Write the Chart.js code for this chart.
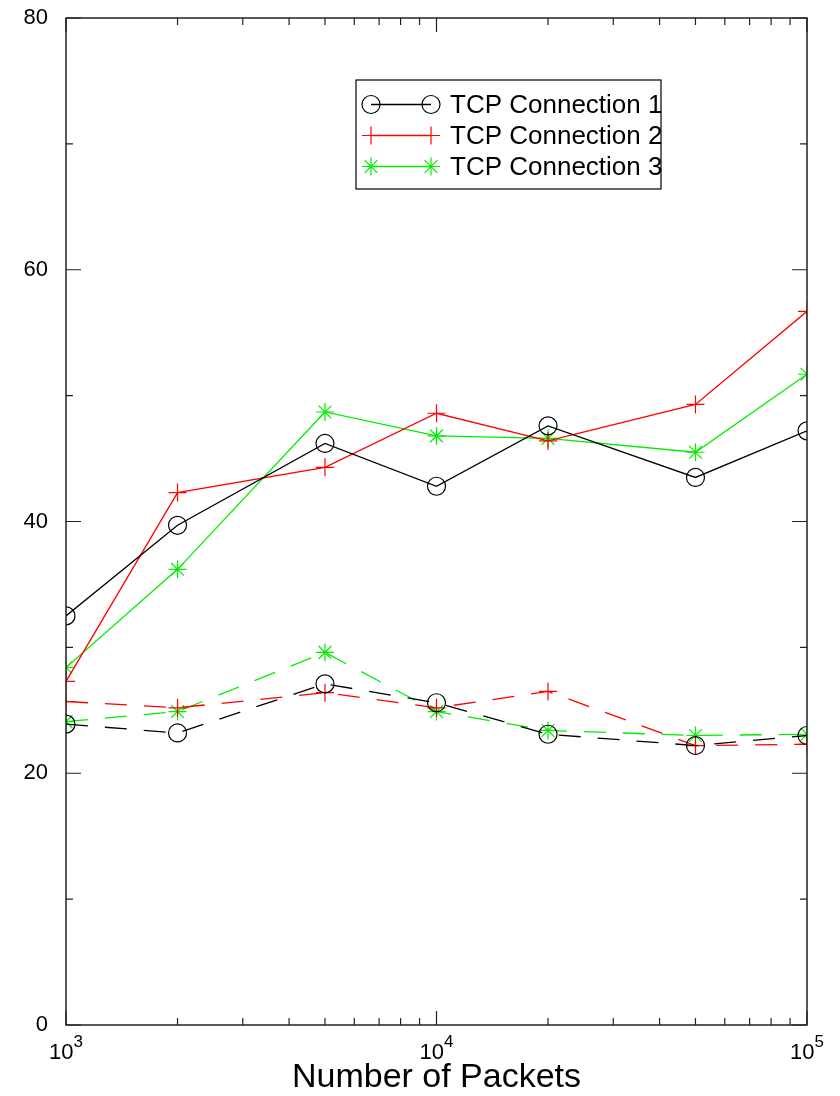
<!DOCTYPE html>
<html>
<head>
<meta charset="utf-8">
<script src="https://cdn.jsdelivr.net/npm/chart.js@4.4.0/dist/chart.umd.min.js"></script>
<style>
  html, body { margin: 0; padding: 0; background: #fff; }
  #wrap { width: 840px; height: 1096px; }
</style>
</head>
<body>
<div id="wrap"><canvas id="canvas" width="840" height="1096"></canvas></div>
<script>
// values
const packets = [1000, 2000, 5000, 10000, 20000, 50000, 100000];
const conn1 = [32.5, 39.7, 46.2, 42.8, 47.6, 43.5, 47.2];
const conn2 = [27.3, 42.3, 44.3, 48.6, 46.4, 49.3, 56.7];
const conn3 = [28.4, 36.2, 48.7, 46.8, 46.6, 45.5, 51.7];
const conn1Low = [23.9, 23.2, 27.1, 25.6, 23.1, 22.2, 23.0];
const conn2Low = [25.7, 25.2, 26.4, 25.2, 26.5, 22.2, 22.3];
const conn3Low = [24.1, 24.9, 29.6, 24.9, 23.4, 23.0, 23.1];
const seriesNames = ["TCP Connection 1", "TCP Connection 2", "TCP Connection 3"];
const yTickValues = [0, 20, 40, 60, 80];
const yMinorValues = [10, 30, 50, 70];
const xDecades = [1000, 10000, 100000];
const xMinorValues = [2000, 3000, 4000, 5000, 6000, 7000, 8000, 9000,
  20000, 30000, 40000, 50000, 60000, 70000, 80000, 90000];

const colors = ["#000000", "#ff0000", "#00ee00"];
const shapes = ["circle", "cross", "star"];
const FONT = "'Liberation Sans', Arial, Helvetica, sans-serif";

const toPoints = (ys) => packets.map((x, i) => ({ x: x, y: ys[i] }));

const makeSet = (label, ys, idx, dashed) => ({
  label: label,
  data: toPoints(ys),
  borderColor: colors[idx],
  borderWidth: 1.3,
  borderDash: dashed ? [22, 17] : [],
  pointStyle: shapes[idx],
  pointRadius: 9,
  pointBorderWidth: 1.2,
  pointBorderColor: colors[idx],
  pointBackgroundColor: "rgba(0,0,0,0)",
  fill: false,
  tension: 0,
  showInLegend: !dashed,
});

// draws frame, inward ticks, x labels with exponents and the boxed legend
const framePlugin = {
  id: "frame",
  afterDraw(chart) {
    const ctx = chart.ctx;
    const area = chart.chartArea;
    const xs = chart.scales.x;
    const ys = chart.scales.y;
    ctx.save();
    ctx.strokeStyle = "#222";
    ctx.lineWidth = 1.5;
    ctx.strokeRect(area.left, area.top, area.right - area.left, area.bottom - area.top);

    ctx.lineWidth = 1.2;
    ctx.beginPath();
    const yTick = (v, len) => {
      const py = ys.getPixelForValue(v);
      ctx.moveTo(area.left, py); ctx.lineTo(area.left + len, py);
      ctx.moveTo(area.right, py); ctx.lineTo(area.right - len, py);
    };
    const xTick = (v, len) => {
      const px = xs.getPixelForValue(v);
      ctx.moveTo(px, area.bottom); ctx.lineTo(px, area.bottom - len);
      ctx.moveTo(px, area.top); ctx.lineTo(px, area.top + len);
    };
    yTickValues.forEach((v) => yTick(v, 15));
    yMinorValues.forEach((v) => yTick(v, 7));
    xDecades.forEach((v) => xTick(v, 14));
    xMinorValues.forEach((v) => xTick(v, 7));
    ctx.stroke();

    // x tick labels: 10 with exponent
    ctx.fillStyle = "#000";
    ctx.textBaseline = "alphabetic";
    ctx.textAlign = "left";
    xDecades.forEach((v) => {
      const px = xs.getPixelForValue(v);
      const exp = String(Math.round(Math.log10(v)));
      ctx.font = "22px " + FONT;
      const wb = ctx.measureText("10").width;
      ctx.font = "17px " + FONT;
      const we = ctx.measureText(exp).width;
      const start = px - (wb + we) / 2;
      ctx.font = "22px " + FONT;
      ctx.fillText("10", start, 1059);
      ctx.font = "17px " + FONT;
      ctx.fillText(exp, start + wb, 1047);
    });

    // legend
    const box = { left: 356, top: 80, right: 661, bottom: 189 };
    ctx.strokeStyle = "#000";
    ctx.lineWidth = 1.2;
    ctx.strokeRect(box.left, box.top, box.right - box.left, box.bottom - box.top);
    const legendSets = chart.data.datasets.filter((d) => d.showInLegend);
    legendSets.forEach((d, i) => {
      const y = 104.5 + i * 31;
      const x1 = 371, x2 = 431;
      ctx.strokeStyle = d.borderColor;
      ctx.lineWidth = d.borderWidth;
      ctx.setLineDash([]);
      ctx.beginPath();
      ctx.moveTo(x1, y); ctx.lineTo(x2, y);
      ctx.stroke();
      ctx.fillStyle = "rgba(0,0,0,0)";
      ctx.lineWidth = d.pointBorderWidth;
      [x1, x2].forEach((x) => {
        Chart.helpers.drawPoint(ctx, {
          pointStyle: d.pointStyle,
          radius: d.pointRadius,
          borderWidth: d.pointBorderWidth,
          rotation: 0,
        }, x, y);
      });
      ctx.fillStyle = "#000";
      ctx.font = "26px " + FONT;
      ctx.textBaseline = "middle";
      ctx.fillText(d.label, 450, y + 1);
    });
    ctx.restore();
  },
};

const ctx = document.getElementById("canvas");
const myChart = new Chart(ctx, {
  type: "line",
  data: {
    datasets: [
      makeSet(seriesNames[0], conn1, 0, false),
      makeSet(seriesNames[1], conn2, 1, false),
      makeSet(seriesNames[2], conn3, 2, false),
      makeSet(seriesNames[0] + " (2)", conn1Low, 0, true),
      makeSet(seriesNames[1] + " (2)", conn2Low, 1, true),
      makeSet(seriesNames[2] + " (2)", conn3Low, 2, true),
    ],
  },
  options: {
    responsive: false,
    animation: false,
    devicePixelRatio: 1,
    layout: { padding: { top: 18, right: 33, left: 0, bottom: 0 } },
    plugins: { legend: { display: false }, tooltip: { enabled: false } },
    scales: {
      x: {
        type: "logarithmic",
        min: 1000,
        max: 100000,
        grid: { display: false },
        border: { display: false },
        ticks: { display: false },
        title: {
          display: true,
          text: "Number of Packets",
          color: "#000",
          font: { family: FONT, size: 34, lineHeight: 1.1 },
          padding: { top: 0, bottom: 0 },
        },
        afterFit: (s) => {
          s.height = 71;
          s.paddingLeft = 0;
          s.paddingRight = 0;
        },
      },
      y: {
        min: 0,
        max: 80,
        grid: { display: false, drawTicks: false },
        border: { display: false },
        ticks: {
          stepSize: 20,
          color: "#000",
          padding: 18,
          font: { family: FONT, size: 22 },
        },
        afterFit: (s) => {
          s.width = 66;
          s.paddingTop = 0;
          s.paddingBottom = 0;
        },
      },
    },
  },
  plugins: [framePlugin],
});
</script>
</body>
</html>
